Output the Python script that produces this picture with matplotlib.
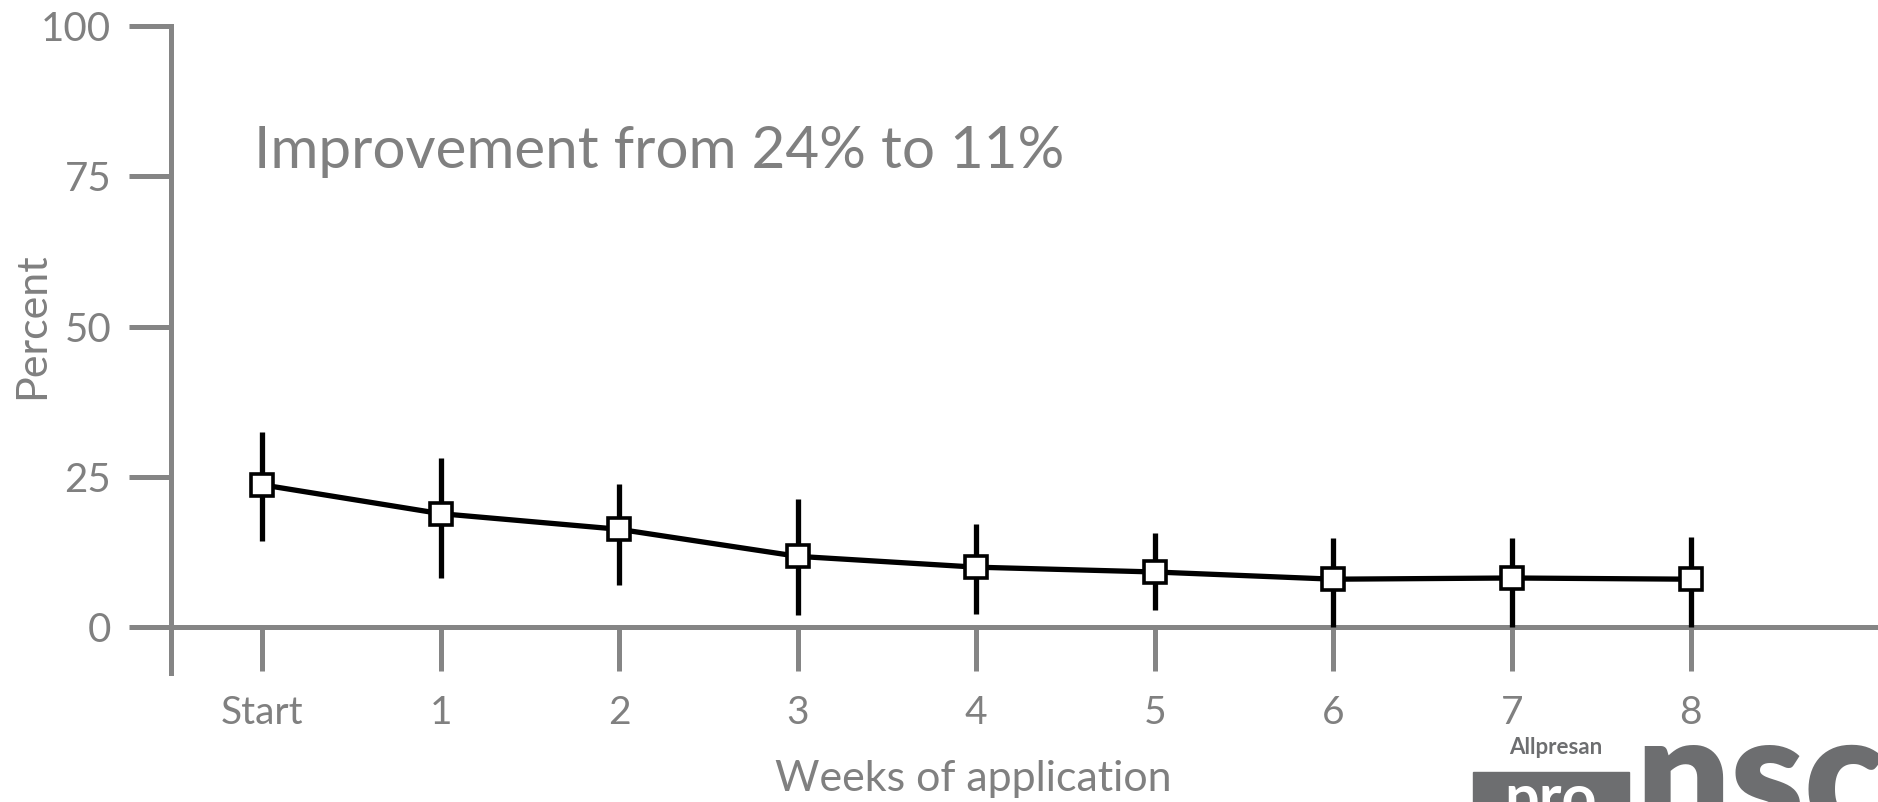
import numpy as np
import matplotlib.pyplot as plt
from matplotlib.patches import Rectangle

plt.rcParams['font.family'] = ['Lato', 'DejaVu Sans']

# data
weeks = ['Start', '1', '2', '3', '4', '5', '6', '7', '8']
percent = [23.7, 18.9, 16.3, 11.8, 10.0, 9.2, 8.0, 8.2, 8.0]
err_upper = [32.5, 28.1, 23.9, 21.3, 17.1, 15.7, 14.9, 14.9, 15.0]
err_lower = [14.3, 8.2, 7.0, 2.0, 2.2, 2.8, 0.0, 0.0, 0.0]
y_ticks = [0, 25, 50, 75, 100]

GRAY = '#858585'
TEXT = '#808080'
LOGO = '#6d6e70'

W, H = 1878, 802
fig = plt.figure(figsize=(W / 100, H / 100), dpi=100)
ax = fig.add_axes([171 / W, (H - 673) / H, 1 - 171 / W, (673 - 26) / H])

x = np.arange(len(weeks))
y = np.array(percent)
yerr = [y - np.array(err_lower), np.array(err_upper) - y]

ax.errorbar(x, y, yerr=yerr, fmt='none', ecolor='black', elinewidth=3.8, capsize=0, zorder=3)
ax.plot(x, y, color='black', linewidth=3.8, marker='s', markersize=16,
        markerfacecolor='white', markeredgecolor='black', markeredgewidth=2.6, zorder=4)

ax.set_xlim(-0.51, 9.05)
ax.set_ylim(-7.6, 100)

for s in ['top', 'right']:
    ax.spines[s].set_visible(False)
ax.spines['bottom'].set_position(('data', 0))
for s in ['left', 'bottom']:
    ax.spines[s].set_color(GRAY)
    ax.spines[s].set_linewidth(3.6)

ax.set_xticks(x)
ax.set_xticklabels(weeks)
ax.set_yticks(y_ticks)
ax.tick_params(axis='x', direction='out', length=32, width=3.6, color=GRAY,
               labelcolor=TEXT, labelsize=28, pad=17)
ax.tick_params(axis='y', direction='out', length=30, width=3.6, color=GRAY,
               labelcolor=TEXT, labelsize=29, pad=13)

fig.text(32 / W, 1 - 326 / H, 'Percent', rotation=90, ha='center', va='center',
         color=TEXT, fontsize=31)
fig.text(973 / W, 1 - 779 / H, 'Weeks of application', ha='center', va='center',
         color=TEXT, fontsize=31)
fig.text(254 / W, 1 - 152 / H, 'Improvement from 24% to 11%', ha='left', va='center',
         color=TEXT, fontsize=42)

# logos (approximated as text)
fig.text(1556 / W, 1 - 747 / H, 'Allpresan', ha='center', va='center',
         color=LOGO, fontsize=16, fontweight='bold')
fig.patches.append(Rectangle((1473 / W, 0), (1629 - 1473) / W, (802 - 772) / H,
                             transform=fig.transFigure, color=LOGO))
fig.text(1551 / W, 1 - 818 / H, 'pro', ha='center', va='baseline',
         color='white', fontsize=44, fontweight='bold')
fig.text(1635 / W, 1 - 833 / H, 'nsc', ha='left', va='baseline',
         color=LOGO, fontsize=120, fontweight='heavy')

fig.savefig('out.png', dpi=100)
